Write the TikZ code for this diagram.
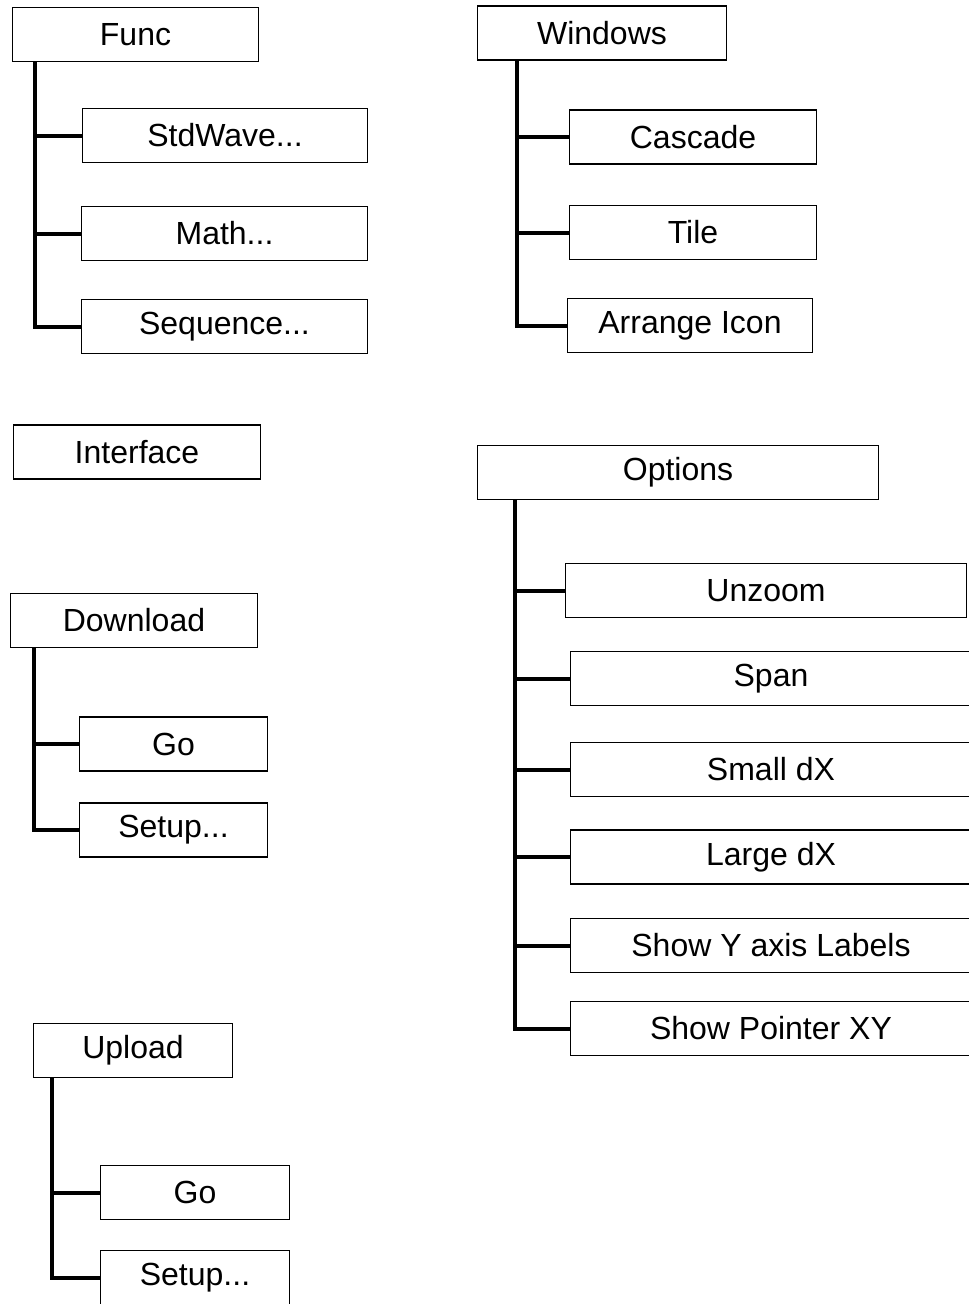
\documentclass[tikz,border=0pt]{standalone}
\usepackage{fontspec}
\setmainfont{Liberation Sans}

\tikzset{
  menu/.style={draw, line width=1.5pt, inner sep=0pt, minimum height=54,
    font=\fontsize{32}{36}\selectfont},
  stem/.style={line width=4pt}
}

\begin{document}
\begin{tikzpicture}[x=1pt,y=-1pt]
\useasboundingbox (0,0) rectangle (969,1304);
\clip (0,0) rectangle (969,1304);

% Func menu
\node[menu, minimum width=246] (func) at (135.5,34.5) {Func};
\node[menu, minimum width=285] (std) at (225,135.5) {StdWave...};
\node[menu, minimum width=286] (math) at (224.5,233.5) {Math...};
\node[menu, minimum width=286] (seq) at (224.5,326.5) {Sequence...};

% Windows menu
\node[menu, minimum width=249] (win) at (602,33) {Windows};
\node[menu, minimum width=247] (casc) at (693,137) {Cascade};
\node[menu, minimum width=247] (tile) at (693,232.5) {Tile};
\node[menu, minimum width=245] (arr) at (690,325.5) {Arrange Icon};

\node[menu, minimum width=247] (iface) at (137,452) {Interface};

% Options menu
\node[menu, minimum width=401] (opts) at (678,472.5) {Options};
\node[menu, minimum width=401] (unz) at (766,590.5) {Unzoom};
\node[menu, minimum width=401] (span) at (771,678.5) {Span};
\node[menu, minimum width=401] (small) at (771,769.5) {Small dX};
\node[menu, minimum width=401] (large) at (771,857) {Large dX};
\node[menu, minimum width=401] (showy) at (771,945.5) {Show Y axis Labels};
\node[menu, minimum width=401] (showp) at (771,1028.5) {Show Pointer XY};

% Download / Upload
\node[menu, minimum width=247] (dl) at (134,620.5) {Download};
\node[menu, minimum width=188] (dgo) at (173.5,744) {Go};
\node[menu, minimum width=188] (dset) at (173.5,830) {Setup...};

\node[menu, minimum width=199] (ul) at (133,1050.5) {Upload};
\node[menu, minimum width=189] (ugo) at (195,1192.5) {Go};
\node[menu, minimum width=189] (uset) at (195,1277.5) {Setup...};

% trunks
\draw[stem] ([xshift=23]func.south west) coordinate (ft) |- (seq.west);
\foreach \c in {std,math} \draw[stem] (ft |- \c.west) -- (\c.west);

\draw[stem] ([xshift=40]win.south west) coordinate (wt) |- (arr.west);
\foreach \c in {casc,tile} \draw[stem] (wt |- \c.west) -- (\c.west);

\draw[stem] ([xshift=38]opts.south west) coordinate (ot) |- (showp.west);
\foreach \c in {unz,span,small,large,showy} \draw[stem] (ot |- \c.west) -- (\c.west);

\draw[stem] ([xshift=24]dl.south west) coordinate (dt) |- (dset.west);
\draw[stem] (dt |- dgo.west) -- (dgo.west);

\draw[stem] ([xshift=19]ul.south west) coordinate (ut) |- (uset.west);
\draw[stem] (ut |- ugo.west) -- (ugo.west);

\end{tikzpicture}
\end{document}
